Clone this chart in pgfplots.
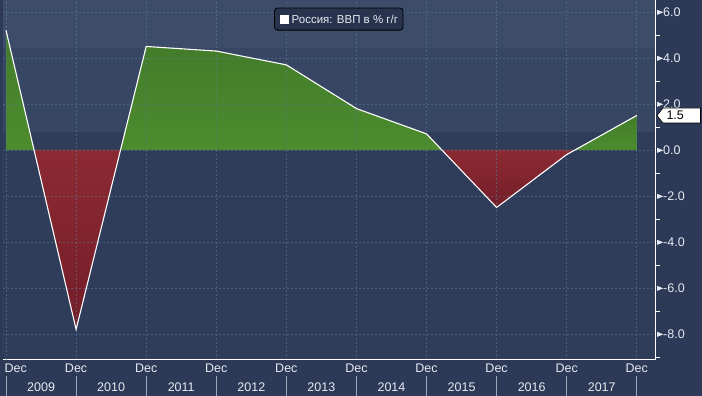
\documentclass[border=0pt]{standalone}
\usepackage{fontspec}
\setmainfont{Liberation Sans}
\usepackage{pgfplots}
\pgfplotsset{compat=1.18}
\usepgfplotslibrary{fillbetween}
\definecolor{bgA}{HTML}{2F3C5A}
\definecolor{bgB}{HTML}{374663}
\definecolor{bgC}{HTML}{3D4C69}
\definecolor{outerbg}{HTML}{2D3A57}
\definecolor{gridc}{HTML}{5A7E98}
\definecolor{gTop}{HTML}{437C2A}
\definecolor{gBot}{HTML}{4C8C2E}
\definecolor{rTop}{HTML}{8C2A33}
\definecolor{rBot}{HTML}{731D28}
\definecolor{txt}{HTML}{E6EAF2}
\definecolor{sepc}{HTML}{A0A8B8}
\definecolor{legbg}{HTML}{28334D}
\pgfplotsset{
  layers/mylayers/.define layer set={axis background,pre main,axis grid,axis ticks,axis lines,axis tick labels,main,axis descriptions,axis foreground}{},
}
\pgfplotstableread{
x y
0 5.2
1 -7.8
2 4.5
3 4.3
4 3.7
5 1.8
6 0.7
7 -2.5
8 -0.2
9 1.5
}\gdp
\begin{document}
\begin{tikzpicture}
\begin{axis}[
  name=ax, set layers=mylayers,
  scale only axis, width=652pt, height=360pt,
  xmin=-0.043, xmax=9.26, ymin=-9.13, ymax=6.52,
  axis x line*=bottom, axis y line*=right,
  axis line style={white, line width=1pt},
  xtick={1,...,9},
  xticklabels={Dec,Dec,Dec,Dec,Dec,Dec,Dec,Dec,Dec},
  extra x ticks={0},
  extra x tick labels={Dec},
  extra x tick style={tick label style={anchor=north west, xshift=-3.5pt}},
  ytick={-8,-6,...,6},
  minor ytick={-9,-7,...,5},
  yticklabel={\tikz[baseline=-0.6ex]\fill[txt] (0pt,2.5pt)--(6pt,0pt)--(0pt,-2.5pt)--cycle;\pgfmathprintnumber[fixed,fixed zerofill,precision=1]{\tick}},
  /pgf/number format/assume math mode=true,
  tick label style={text=txt, font=\fontsize{12.5}{14}\selectfont},
  x tick label style={inner sep=2pt, yshift=-2pt},
  y tick label style={inner sep=0pt, xshift=2pt},
  tick align=outside,
  major tick length=0pt,
  minor tick length=5pt,
  tick style={white, line width=0.8pt},
  grid=major,
  major grid style={gridc, opacity=0.55, dash pattern=on 2pt off 2pt, line width=0.6pt},
  clip=false,
]
\begin{pgfonlayer}{axis background}
\fill[outerbg] ([xshift=-3pt,yshift=-36pt]rel axis cs:0,0) rectangle ([xshift=47pt]rel axis cs:1,1);
\fill[bgA] (axis cs:-0.043,-9.13) rectangle (axis cs:9.26,0.78);
\fill[bgB] (axis cs:-0.043,0.78) rectangle (axis cs:9.26,4.43);
\fill[bgC] (axis cs:-0.043,4.43) rectangle (axis cs:9.26,6.52);
\end{pgfonlayer}
\addplot[name path=A, draw=none] table[x=x,y=y] {\gdp};
\addplot[name path=Z, draw=none] coordinates {(0,0) (9,0)};
\addplot fill between[of=A and Z, split,
  every even segment/.style={top color=gTop, bottom color=gBot, draw=none},
  every odd segment/.style={top color=rTop, bottom color=rBot, draw=none}];
\addplot[white, line width=1.1pt] table[x=x,y=y] {\gdp};
% year labels
\node[text=txt, font=\fontsize{12.5}{14}\selectfont] at (axis cs:0.5,-9.13) [yshift=-27pt] {2009};
\node[text=txt, font=\fontsize{12.5}{14}\selectfont] at (axis cs:1.5,-9.13) [yshift=-27pt] {2010};
\node[text=txt, font=\fontsize{12.5}{14}\selectfont] at (axis cs:2.5,-9.13) [yshift=-27pt] {2011};
\node[text=txt, font=\fontsize{12.5}{14}\selectfont] at (axis cs:3.5,-9.13) [yshift=-27pt] {2012};
\node[text=txt, font=\fontsize{12.5}{14}\selectfont] at (axis cs:4.5,-9.13) [yshift=-27pt] {2013};
\node[text=txt, font=\fontsize{12.5}{14}\selectfont] at (axis cs:5.5,-9.13) [yshift=-27pt] {2014};
\node[text=txt, font=\fontsize{12.5}{14}\selectfont] at (axis cs:6.5,-9.13) [yshift=-27pt] {2015};
\node[text=txt, font=\fontsize{12.5}{14}\selectfont] at (axis cs:7.5,-9.13) [yshift=-27pt] {2016};
\node[text=txt, font=\fontsize{12.5}{14}\selectfont] at (axis cs:8.5,-9.13) [yshift=-27pt] {2017};
\pgfplotsinvokeforeach{0,...,9}{
  \draw[sepc, line width=0.8pt] ([yshift=-16pt]axis cs:#1,-9.13) -- ([yshift=-36pt]axis cs:#1,-9.13);
}
% legend
\node[draw=black, fill=legbg, rounded corners=3pt, line width=0.8pt, text=txt,
  font=\fontsize{11.5}{13}\selectfont, inner xsep=5pt, inner ysep=6.5pt]
  at (rel axis cs:0.515,0.947)
  {\tikz[baseline=0pt, sharp corners]\fill[white] (0pt,0pt) rectangle (9pt,9pt);\ Россия: ВВП в \% г/г};
% last value tag
\draw[black, fill=white, line width=0.6pt]
  ([xshift=2pt]axis cs:9.26,1.5) -- ([xshift=8pt,yshift=7.5pt]axis cs:9.26,1.5)
  -- ([xshift=45.5pt,yshift=7.5pt]axis cs:9.26,1.5) -- ([xshift=45.5pt,yshift=-7.5pt]axis cs:9.26,1.5)
  -- ([xshift=8pt,yshift=-7.5pt]axis cs:9.26,1.5) -- cycle;
\node[text=black, font=\fontsize{12.5}{14}\selectfont, anchor=west] at (axis cs:9.26,1.5) [xshift=8pt] {1.5};
\end{axis}
\pgfresetboundingbox
\path[use as bounding box] ([xshift=-3pt,yshift=-36pt]ax.south west) rectangle ([xshift=47pt]ax.north east);
\end{tikzpicture}
\end{document}
